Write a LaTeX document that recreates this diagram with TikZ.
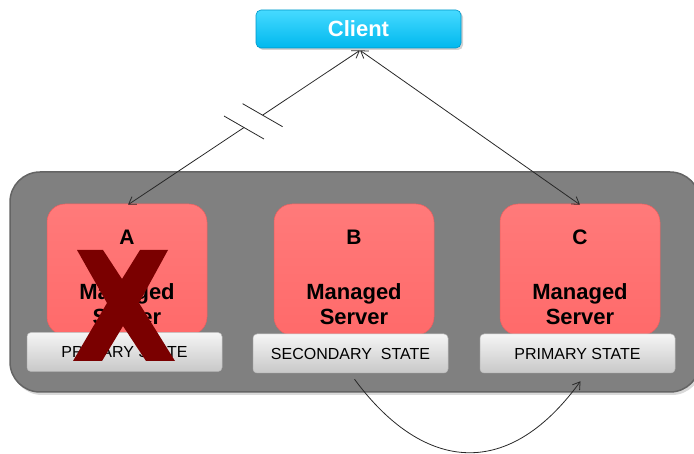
\documentclass[tikz,border=0pt]{standalone}
\usepackage{fontspec}
\setmainfont{Liberation Sans}
\usetikzlibrary{arrows.meta,shadows,calc}
\definecolor{cyanA}{RGB}{70,218,255}
\definecolor{cyanB}{RGB}{0,184,238}
\definecolor{cyanD}{RGB}{0,150,200}
\definecolor{redA}{RGB}{255,122,122}
\definecolor{redB}{RGB}{255,106,106}
\definecolor{redD}{RGB}{235,95,95}
\definecolor{grpFill}{RGB}{128,128,128}
\definecolor{grpDraw}{RGB}{100,100,100}
\definecolor{barA}{RGB}{245,245,245}
\definecolor{barB}{RGB}{200,200,200}
\definecolor{xred}{RGB}{122,0,0}
\definecolor{lineC}{RGB}{40,40,40}
\tikzset{
  clientbox/.style={rounded corners=5pt, top color=cyanA, bottom color=cyanB, draw=cyanD, line width=0.6pt,
    minimum width=205pt, minimum height=38pt, inner sep=0pt,
    drop shadow={opacity=0.35, shadow xshift=2pt, shadow yshift=-2pt},
    text=white, font=\fontsize{22}{24}\selectfont\bfseries},
  srvbox/.style={rounded corners=18pt, top color=redA, bottom color=redB, draw=redD, line width=0.5pt,
    minimum width=160pt, minimum height=131pt, inner sep=0pt,
    drop shadow={opacity=0.3, shadow xshift=2pt, shadow yshift=-2pt}},
  statebar/.style={rounded corners=4pt, top color=barA, bottom color=barB, draw=gray!55, line width=0.5pt,
    minimum width=195pt, minimum height=39pt, inner sep=0pt,
    drop shadow={opacity=0.4, shadow xshift=2pt, shadow yshift=-2pt},
    font=\fontsize{16}{18}\selectfont, text=black},
  srvletter/.style={font=\fontsize{21}{23}\selectfont\bfseries, inner sep=0pt},
  srvname/.style={font=\fontsize{22}{25}\selectfont\bfseries, align=center, inner sep=0pt},
  conn/.style={draw=lineC, line width=0.8pt},
  barbtip/.tip={Straight Barb[length=7pt,width=9pt]}
}
\begin{document}
\begin{tikzpicture}[x=1pt,y=1pt]
\useasboundingbox (0,0) rectangle (694,-454);
% container
\begin{scope}
\clip (0,0) rectangle (694,-454);
\draw[fill=grpFill, draw=grpDraw, line width=1.5pt, rounded corners=30pt,
  drop shadow={opacity=0.3, shadow xshift=2pt, shadow yshift=-3pt}]
  (10,-172) rectangle (700,-392);
\end{scope}
% client
\node[clientbox] (client) at (358.5,-29) {Client};
% servers
\node[srvbox] (boxA) at (127,-269.5) {};
\node[srvbox] (boxB) at (354,-269.5) {};
\node[srvbox] (boxC) at (580,-269.5) {};
\node[srvletter] (lA) at (127,-237) {A};
\node[srvletter] (lB) at (354,-237) {B};
\node[srvletter] (lC) at (580,-237) {C};
\node[srvname] (nA) at (127,-304) {Managed\\Server};
\node[srvname] (nB) at (354,-304) {Managed\\Server};
\node[srvname] (nC) at (580,-304) {Managed\\Server};
% state bars
\node[statebar] (sA) at (124.5,-352) {PRIMARY STATE};
\node[statebar] (sB) at (350.5,-353.5) {SECONDARY\ \ STATE};
\node[statebar] (sC) at (577.5,-353.5) {PRIMARY STATE};
% failure mark
\fill[xred] (77,-250) -- (103,-250) -- (122,-279) -- (140,-250) -- (168,-250) -- (139,-303)
  -- (175,-361) -- (146,-361) -- (123,-326) -- (102,-361) -- (73,-361) -- (107,-303) -- cycle;
% connectors
\coordinate (ct) at ($(client.south)+(1.5,-2)$);
\coordinate (at) at ($(boxA.north)+(1,-1)$);
\coordinate (g1) at ($(ct)!0.42!(at)$);
\coordinate (g2) at ($(ct)!0.50!(at)$);
\draw[conn, -{barbtip}] (g1) -- (ct);
\draw[conn, -{barbtip}] (g2) -- (at);
\draw[conn] ($(g1)+(-20,11.5)$) -- ($(g1)+(20,-11.5)$);
\draw[conn] ($(g2)+(-20,11.5)$) -- ($(g2)+(20,-11.5)$);
\coordinate (cc) at ($(boxC.north)+(0,-1)$);
\draw[conn, {barbtip}-{barbtip}] (ct) -- (cc);
\coordinate (bs) at ($(sB.south)+(4,-6)$);
\coordinate (ce) at ($(sC.south)+(3,-8)$);
\draw[conn, -{barbtip}] (bs) .. controls (420,-468) and (505,-485) .. (ce);
\end{tikzpicture}
\end{document}
